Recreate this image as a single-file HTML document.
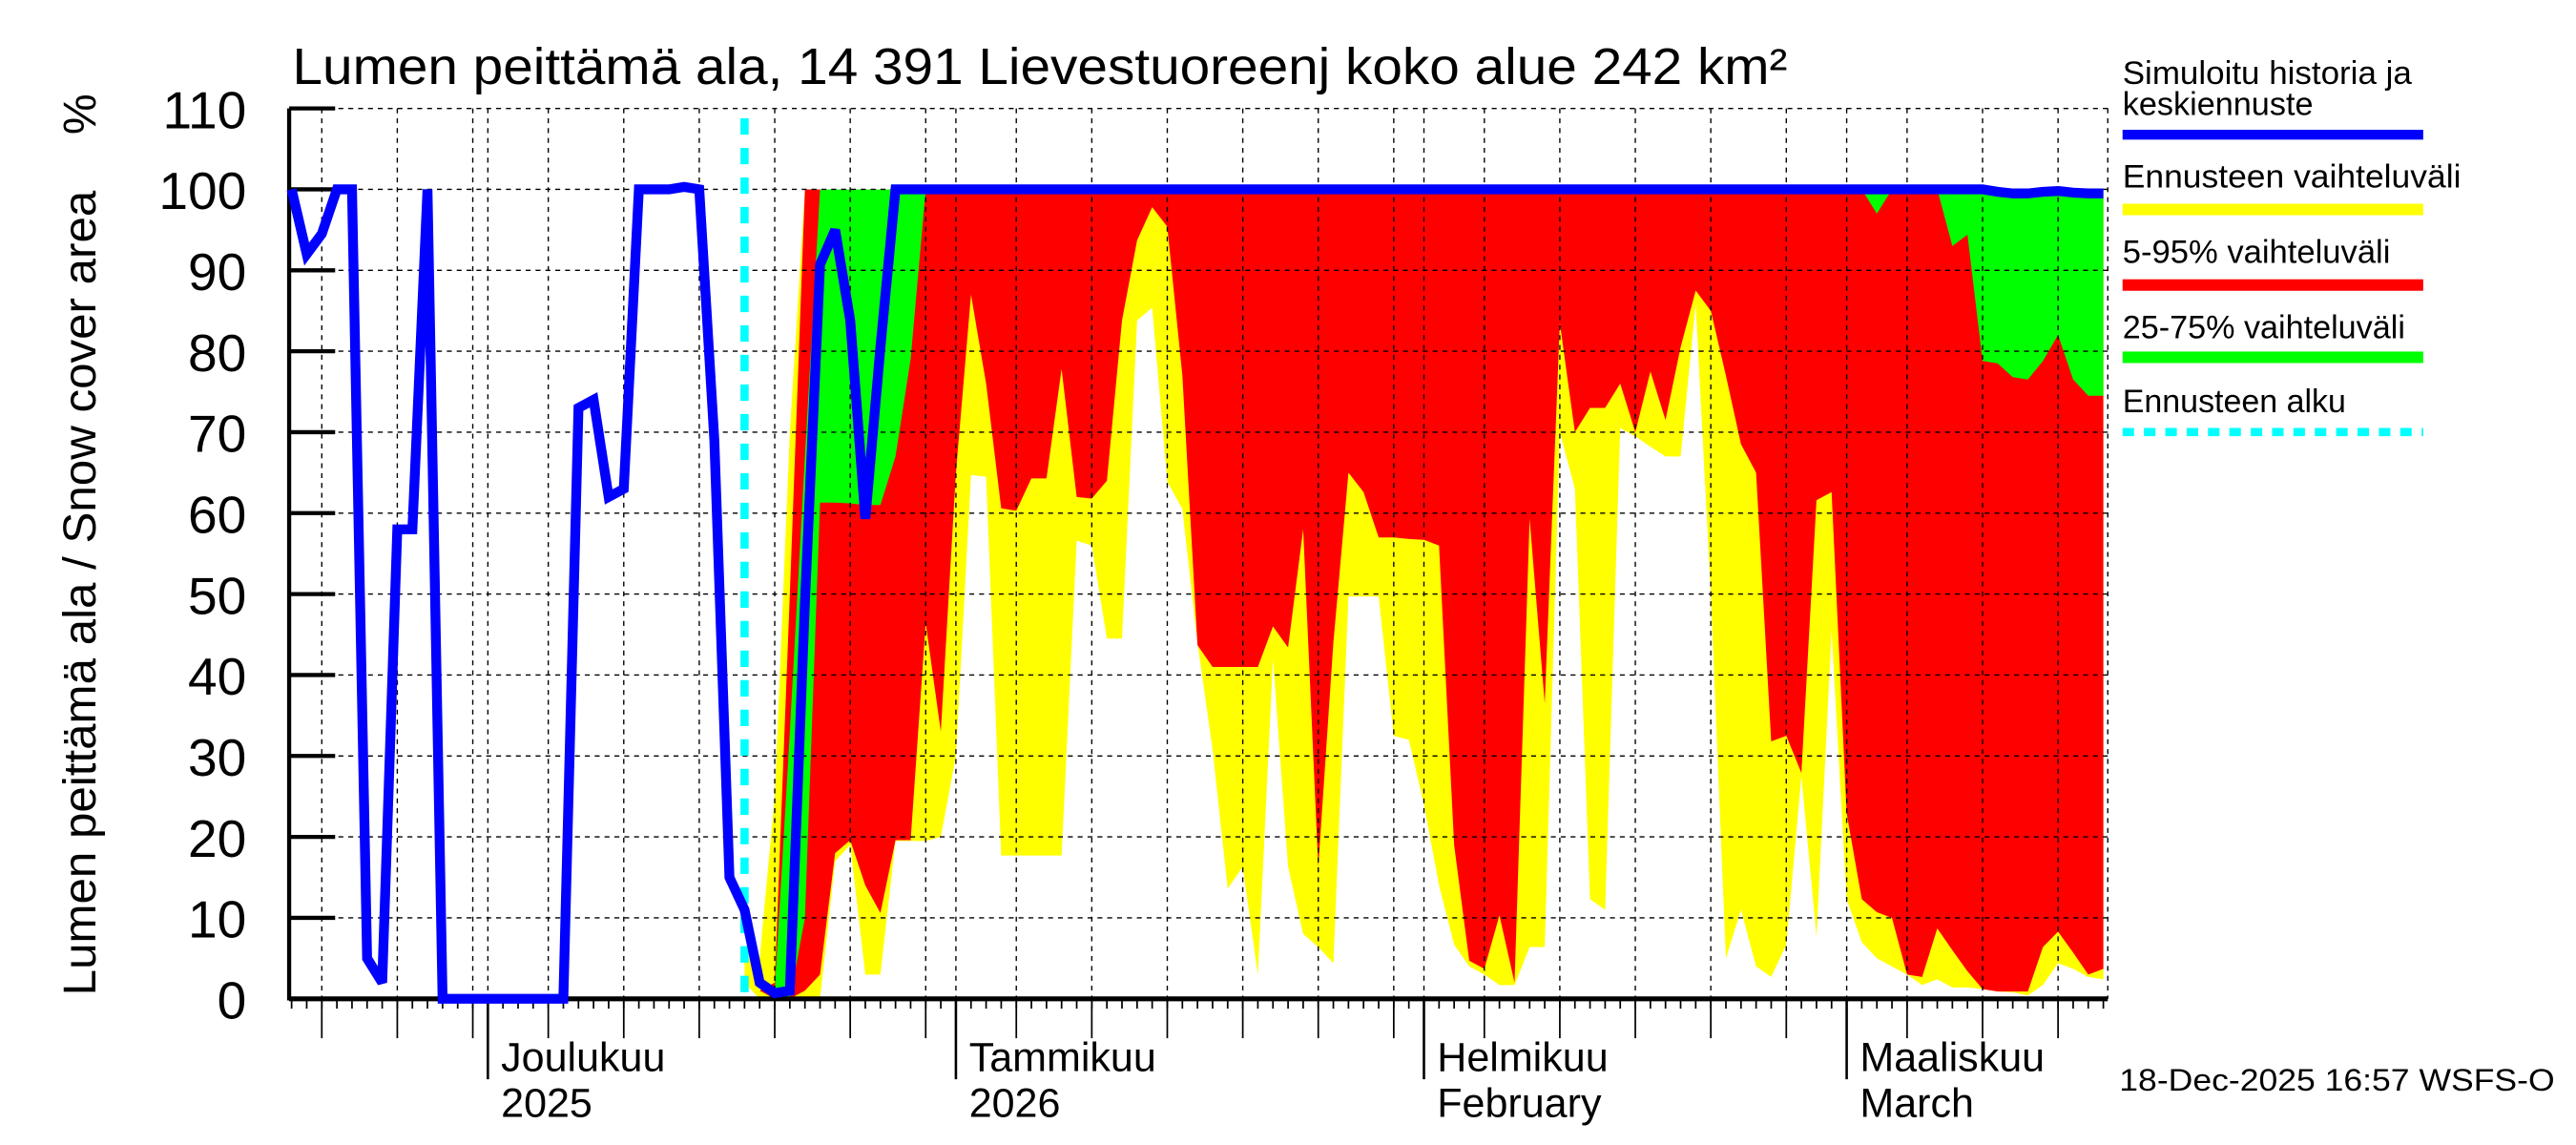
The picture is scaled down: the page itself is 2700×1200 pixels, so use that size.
<!DOCTYPE html>
<html><head><meta charset="utf-8">
<style>
html,body{margin:0;padding:0;background:#fff;}
svg{display:block;}
text{font-family:"Liberation Sans",sans-serif;fill:#000;}
</style></head>
<body>
<svg id="chart" width="2700" height="1200" viewBox="0 0 1568 697" preserveAspectRatio="none" xmlns="http://www.w3.org/2000/svg">
  <rect x="0" y="0" width="1568" height="697" fill="#fff"/>
  <text x="178" y="51" font-size="31" textLength="910" lengthAdjust="spacingAndGlyphs">Lumen peittämä ala, 14 391 Lievestuoreenj koko alue 242 km²</text>
  <text transform="translate(58,606) rotate(-90)" font-size="28" textLength="490" lengthAdjust="spacingAndGlyphs">Lumen peittämä ala / Snow cover area</text>
  <text transform="translate(58,82) rotate(-90)" font-size="28">%</text>
  <g id="bands"></g>
  <g id="grid"></g>
  <g id="axes"></g>
  <g id="series"></g>
  <g id="legend">
    <text x="1292" y="51" font-size="20" textLength="176" lengthAdjust="spacingAndGlyphs">Simuloitu historia ja</text>
    <text x="1292" y="70" font-size="20" textLength="116" lengthAdjust="spacingAndGlyphs">keskiennuste</text>
    <rect x="1292" y="79" width="183" height="6" fill="#0000ff"/>
    <text x="1292" y="114" font-size="20" textLength="206" lengthAdjust="spacingAndGlyphs">Ennusteen vaihteluväli</text>
    <rect x="1292" y="124" width="183" height="7" fill="#ffff00"/>
    <text x="1292" y="160" font-size="20" textLength="163" lengthAdjust="spacingAndGlyphs">5-95% vaihteluväli</text>
    <rect x="1292" y="170" width="183" height="7" fill="#ff0000"/>
    <text x="1292" y="206" font-size="20" textLength="172" lengthAdjust="spacingAndGlyphs">25-75% vaihteluväli</text>
    <rect x="1292" y="214" width="183" height="7" fill="#00ff00"/>
    <text x="1292" y="251" font-size="20" textLength="136" lengthAdjust="spacingAndGlyphs">Ennusteen alku</text>
    <line x1="1292" y1="263" x2="1475" y2="263" stroke="#00ffff" stroke-width="5" stroke-dasharray="7,6"/>
  </g>
  <text x="1290" y="664" font-size="19" textLength="265" lengthAdjust="spacingAndGlyphs">18-Dec-2025 16:57 WSFS-O</text>
</svg>
<script>
// ---- data ----
const yTicks = [0,10,20,30,40,50,60,70,80,90,100,110];
const monthLabels = ["Joulukuu","Tammikuu","Helmikuu","Maaliskuu"];
const monthSub = ["2025","2026","February","March"];
const monthDays = [13,44,75,103]; // day index from Nov 18
const forecastStartDay = 30;
const history = [100,92,94.5,100,100,5,2,58,58,100,0,0,0,0,0,0,0,0,0,73,74,62,63,100,100,100,100.3,100,69,15,11];
const median = [11,2,0.7,1,49,90.7,95,83.8,59.3,80.5,100,100,100,100,100,100,100,100,100,100,100,100,100,100,100,100,100,100,100,100,100,100,100,100,100,100,100,100,100,100,100,100,100,100,100,100,100,100,100,100,100,100,100,100,100,100,100,100,100,100,100,100,100,100,100,100,100,100,100,100,100,100,100,100,100,100,100,100,100,100,100,100,100,99.7,99.5,99.5,99.7,99.8,99.6,99.5,99.5];
const bandMax = [5,5,25,70,100,100,100,100,100,100,100,100,100,100,100,100,100,100,100,100,100,100,100,100,100,100,100,100,100,100,100,100,100,100,100,100,100,100,100,100,100,100,100,100,100,100,100,100,100,100,100,100,100,100,100,100,100,100,100,100,100,100,100,100,100,100,100,100,100,100,100,100,100,100,100,100,100,100,100,100,100,100,100,100,100,100,100,100,100,100,100];
const bandP95 = [2,1,2,50,100,100,100,100,100,100,100,100,100,100,100,100,100,100,100,100,100,100,100,100,100,100,100,100,100,100,100,100,100,100,100,100,100,100,100,100,100,100,100,100,100,100,100,100,100,100,100,100,100,100,100,100,100,100,100,100,100,100,100,100,100,100,100,100,100,100,100,100,100,100,100,100,100,100,100,100,100,100,100,100,100,100,100,100,100,100,100];
const bandP75 = [2,1,1,33,67,100,100,100,100,100,100,100,100,100,100,100,100,100,100,100,100,100,100,100,100,100,100,100,100,100,100,100,100,100,100,100,100,100,100,100,100,100,100,100,100,100,100,100,100,100,100,100,100,100,100,100,100,100,100,100,100,100,100,100,100,100,100,100,100,100,100,100,100,100,100,100,100,100,100,100,100,100,100,100,100,100,100,100,100,100,100];
const bandP25 = [2,1,1,0,10,61.3,61.3,61.2,61,61,67,79,100,100,100,100,100,100,100,100,100,100,100,100,100,100,100,100,100,100,100,100,100,100,100,100,100,100,100,100,100,100,100,100,100,100,100,100,100,100,100,100,100,100,100,100,100,100,100,100,100,100,100,100,100,100,100,100,100,100,100,100,100,100,100,97,100,100,100,100,93,94.4,78.8,78.5,76.8,76.5,78.8,82,76.5,74.5,74.5];
const bandP5 = [2,1,0,0,1,3,18,19.6,14,10.6,19.6,19.6,46.4,33,65,87,76,60.6,60.3,64.3,64.3,77.8,62,61.8,64,83.8,93.7,97.8,95.4,77,43.7,41,41,41,41,46,43.4,58,16.3,44,65,62.6,57,57,56.8,56.7,56,19,4.7,3.7,10.3,2,59.3,36.5,83.5,70,73,73,76,70,77.5,71.5,80.5,87.5,85,77,68.5,65,31.8,32.5,27.9,61.6,62.6,22.9,12.3,10.7,10,3,2.7,8.7,6,3.4,1.2,0.9,0.9,0.9,6.4,8.3,5.7,3,3.7];
const bandMin = [2,0,0,0,0,0,17,19,3,3,19.5,19.5,19.5,20,30,64.7,64.5,17.7,17.7,17.7,17.7,17.7,56.6,56,44.5,44.5,83.8,85.4,63.9,60.5,44,30.8,13.6,16.3,3,42,16.3,8,6.4,4.4,49.7,49.7,49.7,32.5,32,24,14,6.7,4,3,1.7,1.7,6.4,6.4,70,63,12.3,11,70.5,69.5,68.2,67,67,85.8,50,5,11,4,2.7,6.7,27.5,7.7,45.4,12.3,7,5,4,3,1.7,2.4,1.4,1.4,1.2,0.9,0.8,0.4,1.7,4.4,3.7,2.7,2.4];

// ---- axes functions ----
const X0 = 177.5, DX = 9.19, Y0 = 608, PLOT_TOP = 66, PLOT_L = 176, PLOT_R = 1283;
const totalDays = 121;
function xs(d){ return X0 + d*DX; }
function ys(v){ return Y0 - v*(Y0-PLOT_TOP)/110; }
const NS = "http://www.w3.org/2000/svg";
function mk(tag, attrs, parent){ const e=document.createElementNS(NS,tag); for(const k in attrs) e.setAttribute(k,attrs[k]); parent.appendChild(e); return e; }

const bands = document.getElementById('bands');
const grid = document.getElementById('grid');
const axes = document.getElementById('axes');
const series = document.getElementById('series');

function bandPath(top, bot){
  let p = "";
  for(let i=0;i<top.length;i++){ p += (i?"L":"M")+xs(forecastStartDay+i).toFixed(2)+","+ys(top[i]).toFixed(2); }
  for(let i=bot.length-1;i>=0;i--){ p += "L"+xs(forecastStartDay+i).toFixed(2)+","+ys(bot[i]).toFixed(2); }
  return p+"Z";
}
const by = mk('path',{d:bandPath(bandMax,bandMin),fill:'#ffff00'},bands);


const br = mk('path',{d:bandPath(bandP95,bandP5),fill:'#ff0000'},bands);


const bg = mk('path',{d:bandPath(bandP75,bandP25),fill:'#00ff00'},bands);



yTicks.forEach(v=>{
  if(v===0) return;
  const l = mk('line',{x1:PLOT_L,x2:PLOT_R,y1:ys(v),y2:ys(v),stroke:'#000','stroke-width':0.8,'stroke-dasharray':'3,3'},grid);
  
  
});
const startDate = new Date(2025,10,18);
for(let d=0; d<totalDays; d++){
  const dt = new Date(startDate.getTime()+d*86400000);
  const dom = dt.getDate();
  const x = xs(d);
  const t = mk('line',{x1:x,x2:x,y1:Y0,y2:Y0+6,stroke:'#000','stroke-width':1},axes);
  
  
  if(dom%5===0 || dom===1){
    const g = mk('line',{x1:x,x2:x,y1:PLOT_TOP,y2:Y0,stroke:'#000','stroke-width':0.8,'stroke-dasharray':'3,3'},grid);
    
    
  }
  if(dom%5===0){
    const t2 = mk('line',{x1:x,x2:x,y1:Y0,y2:Y0+24,stroke:'#000','stroke-width':1},axes);
    
    
  }
}
const rb = mk('line',{x1:PLOT_R,x2:PLOT_R,y1:PLOT_TOP,y2:Y0,stroke:'#000','stroke-width':0.8,'stroke-dasharray':'3,3'},grid);



monthDays.forEach((d,i)=>{
  const x = xs(d);
  const t = mk('line',{x1:x,x2:x,y1:Y0,y2:657,stroke:'#000','stroke-width':1.5},axes);
  
  
  const lb = mk('text',{x:x+8,y:652,'font-size':25},axes);
  lb.textContent = monthLabels[i];
  
  
  const sb = mk('text',{x:x+8,y:680,'font-size':25},axes);
  sb.textContent = monthSub[i];
  
  
});

yTicks.forEach(v=>{
  const y = ys(v);
  const t = mk('line',{x1:PLOT_L,x2:PLOT_L+28,y1:y,y2:y,stroke:'#000','stroke-width':2.5},axes);
  
  
  const lb = mk('text',{x:150,y:y+12,'font-size':32,'text-anchor':'end'},axes);
  lb.textContent = String(v);
  
  
});
const la = mk('line',{x1:PLOT_L,x2:PLOT_L,y1:PLOT_TOP,y2:Y0+1,stroke:'#000','stroke-width':2.5},axes);


const ba = mk('line',{x1:PLOT_L,x2:PLOT_R,y1:Y0,y2:Y0,stroke:'#000','stroke-width':3},axes);



const fs = mk('line',{x1:xs(forecastStartDay),x2:xs(forecastStartDay),y1:72,y2:Y0,stroke:'#00ffff','stroke-width':5,'stroke-dasharray':'10,8'},series);



let pts = [];
history.forEach((v,i)=>pts.push(xs(i).toFixed(2)+","+ys(v).toFixed(2)));
median.forEach((v,i)=>{ if(i>0) pts.push(xs(forecastStartDay+i).toFixed(2)+","+ys(v).toFixed(2)); });
const bl = mk('polyline',{points:pts.join(" "),fill:'none',stroke:'#0000ff','stroke-width':6,'stroke-linejoin':'miter','stroke-miterlimit':3},series);


</script>
</body></html>
